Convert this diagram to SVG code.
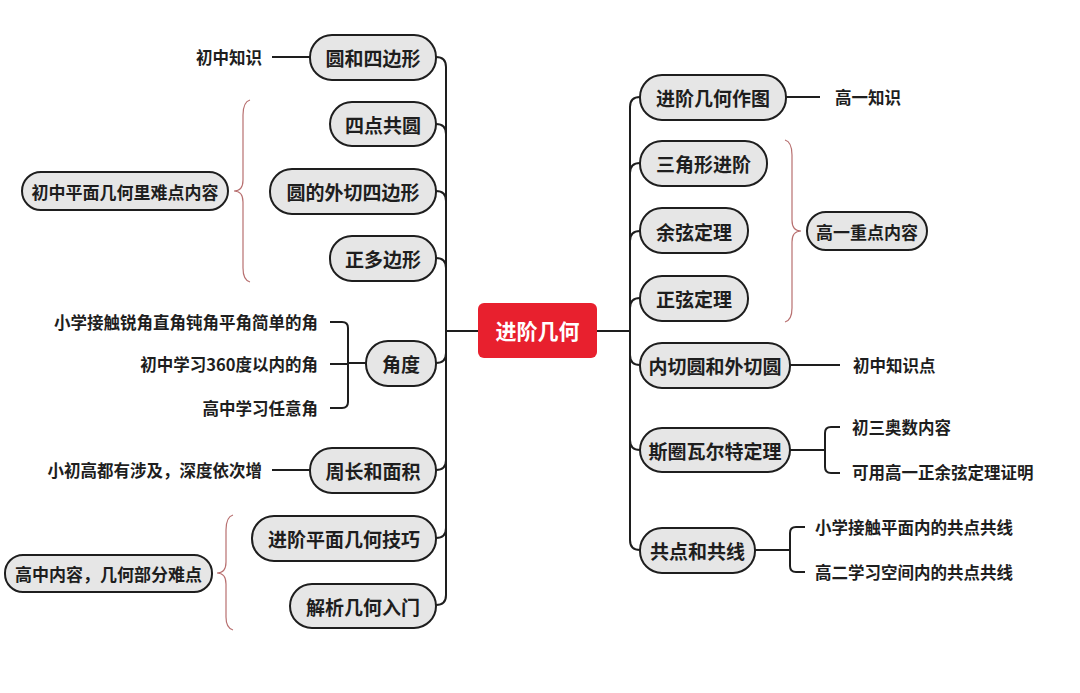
<svg xmlns="http://www.w3.org/2000/svg" width="1080" height="693" viewBox="0 0 1080 693">
<style>
.n rect{fill:#e6e6e6;stroke:#1e1e1e;stroke-width:2}
.t{font-family:"Noto Sans CJK SC","Noto Sans",sans-serif;font-weight:bold;fill:#1e1e1e;dominant-baseline:central}
.nt{font-size:19px;text-anchor:middle}
.ct{font-size:16.5px}
.c path,.c line{fill:none;stroke:#1e1e1e;stroke-width:2}
.c .b{stroke:#b87070;stroke-width:1.2}
</style>
<rect width="1080" height="693" fill="#fff"/>
<g class="c">
<line x1="446" y1="331" x2="478" y2="331"/>
<line x1="597" y1="331" x2="630" y2="331"/>
<path d="M436,57 Q446,57 446,67 V595 Q446,605 436,605"/>
<path d="M436,124 Q446,124 446,134"/>
<path d="M436,191 Q446,191 446,201"/>
<path d="M436,258 Q446,258 446,268"/>
<path d="M436,363 Q446,363 446,353"/>
<path d="M436,470 Q446,470 446,460"/>
<path d="M436,538 Q446,538 446,528"/>
<path d="M640,97 Q630,97 630,107 V540 Q630,550 640,550"/>
<path d="M640,163 Q630,163 630,173"/>
<path d="M640,231 Q630,231 630,241"/>
<path d="M640,298 Q630,298 630,308"/>
<path d="M640,365 Q630,365 630,355"/>
<path d="M640,450 Q630,450 630,440"/>
<line x1="272" y1="57" x2="310" y2="57"/>
<line x1="272" y1="470" x2="310" y2="470"/>
<line x1="348" y1="363" x2="366" y2="363"/>
<path d="M330,322 H342 Q348,322 348,328 V402 Q348,408 342,408 H330"/>
<line x1="330" y1="364" x2="348" y2="364"/>
<line x1="786" y1="97" x2="820" y2="97"/>
<line x1="790" y1="365" x2="840" y2="365"/>
<line x1="790" y1="450" x2="825" y2="450"/>
<path d="M840,427 H831 Q825,427 825,433 V467 Q825,473 831,473 H840"/>
<line x1="755" y1="550" x2="790" y2="550"/>
<path d="M805,527 H796 Q790,527 790,533 V566 Q790,572 796,572 H805"/>
<path class="b" d="M250,100 Q243,102 243,115 V180 Q243,191 234,191 Q243,191 243,202 V268 Q243,280 250,282"/>
<path class="b" d="M233,515 Q226,517 226,530 V562 Q226,573 217,573 Q226,573 226,584 V617 Q226,628 233,630"/>
<path class="b" d="M785,140 Q792,142 792,155 V220 Q792,231 801,231 Q792,231 792,242 V308 Q792,320 785,322"/>
</g>
<g id="root"><rect x="478" y="303" width="119" height="55" rx="6" fill="#e8202e"/><text class="t nt" x="537.5" y="330" style="fill:#fff;font-size:21px">进阶几何</text></g>
<g id="l1" class="n"><rect x="310" y="35" width="126" height="45" rx="22"/><text class="t nt" x="373" y="57">圆和四边形</text></g>
<g id="l2" class="n"><rect x="330" y="102" width="106" height="44" rx="22"/><text class="t nt" x="383" y="124">四点共圆</text></g>
<g id="l3" class="n"><rect x="270" y="169" width="166" height="45" rx="22"/><text class="t nt" x="353" y="191">圆的外切四边形</text></g>
<g id="l4" class="n"><rect x="330" y="236" width="106" height="45" rx="22"/><text class="t nt" x="383" y="258">正多边形</text></g>
<g id="l5" class="n"><rect x="366" y="341" width="70" height="45" rx="22"/><text class="t nt" x="401" y="363">角度</text></g>
<g id="l6" class="n"><rect x="310" y="448" width="126" height="45" rx="22"/><text class="t nt" x="373" y="470">周长和面积</text></g>
<g id="l7" class="n"><rect x="252" y="516" width="184" height="45" rx="22"/><text class="t nt" x="344" y="538">进阶平面几何技巧</text></g>
<g id="l8" class="n"><rect x="290" y="584" width="146" height="44" rx="22"/><text class="t nt" x="363" y="606">解析几何入门</text></g>
<g id="ls1" class="n"><rect x="22" y="172" width="206" height="38" rx="19"/><text class="t nt" x="125" y="191" style="font-size:17px">初中平面几何里难点内容</text></g>
<g id="ls2" class="n"><rect x="5" y="555" width="207" height="37" rx="18"/><text class="t nt" x="108.5" y="573" style="font-size:17px">高中内容，几何部分难点</text></g>
<g id="lt">
<text class="t ct" x="262" y="57" text-anchor="end">初中知识</text>
<text class="t ct" x="318" y="322" text-anchor="end">小学接触锐角直角钝角平角简单的角</text>
<text class="t ct" x="318" y="364" text-anchor="end">初中学习360度以内的角</text>
<text class="t ct" x="318" y="408" text-anchor="end">高中学习任意角</text>
<text class="t ct" x="262" y="470" text-anchor="end">小初高都有涉及，深度依次增</text>
</g>
<g id="r1" class="n"><rect x="640" y="75" width="146" height="45" rx="22"/><text class="t nt" x="713" y="97">进阶几何作图</text></g>
<g id="r2" class="n"><rect x="640" y="141" width="127" height="45" rx="22"/><text class="t nt" x="703.5" y="163">三角形进阶</text></g>
<g id="r3" class="n"><rect x="640" y="208" width="108" height="45" rx="22"/><text class="t nt" x="694" y="231">余弦定理</text></g>
<g id="r4" class="n"><rect x="640" y="276" width="108" height="45" rx="22"/><text class="t nt" x="694" y="298">正弦定理</text></g>
<g id="r5" class="n"><rect x="640" y="343" width="150" height="45" rx="22"/><text class="t nt" x="715" y="365">内切圆和外切圆</text></g>
<g id="r6" class="n"><rect x="640" y="428" width="150" height="44" rx="22"/><text class="t nt" x="715" y="450">斯圈瓦尔特定理</text></g>
<g id="r7" class="n"><rect x="640" y="528" width="115" height="45" rx="22"/><text class="t nt" x="697.5" y="550">共点和共线</text></g>
<g id="rs1" class="n"><rect x="807" y="212" width="120" height="38" rx="19"/><text class="t nt" x="867" y="231" style="font-size:17px">高一重点内容</text></g>
<g id="rt">
<text class="t ct" x="835" y="97">高一知识</text>
<text class="t ct" x="853" y="365">初中知识点</text>
<text class="t ct" x="852" y="427">初三奥数内容</text>
<text class="t ct" x="852" y="472">可用高一正余弦定理证明</text>
<text class="t ct" x="815" y="527">小学接触平面内的共点共线</text>
<text class="t ct" x="815" y="572">高二学习空间内的共点共线</text>
</g>
</svg>
